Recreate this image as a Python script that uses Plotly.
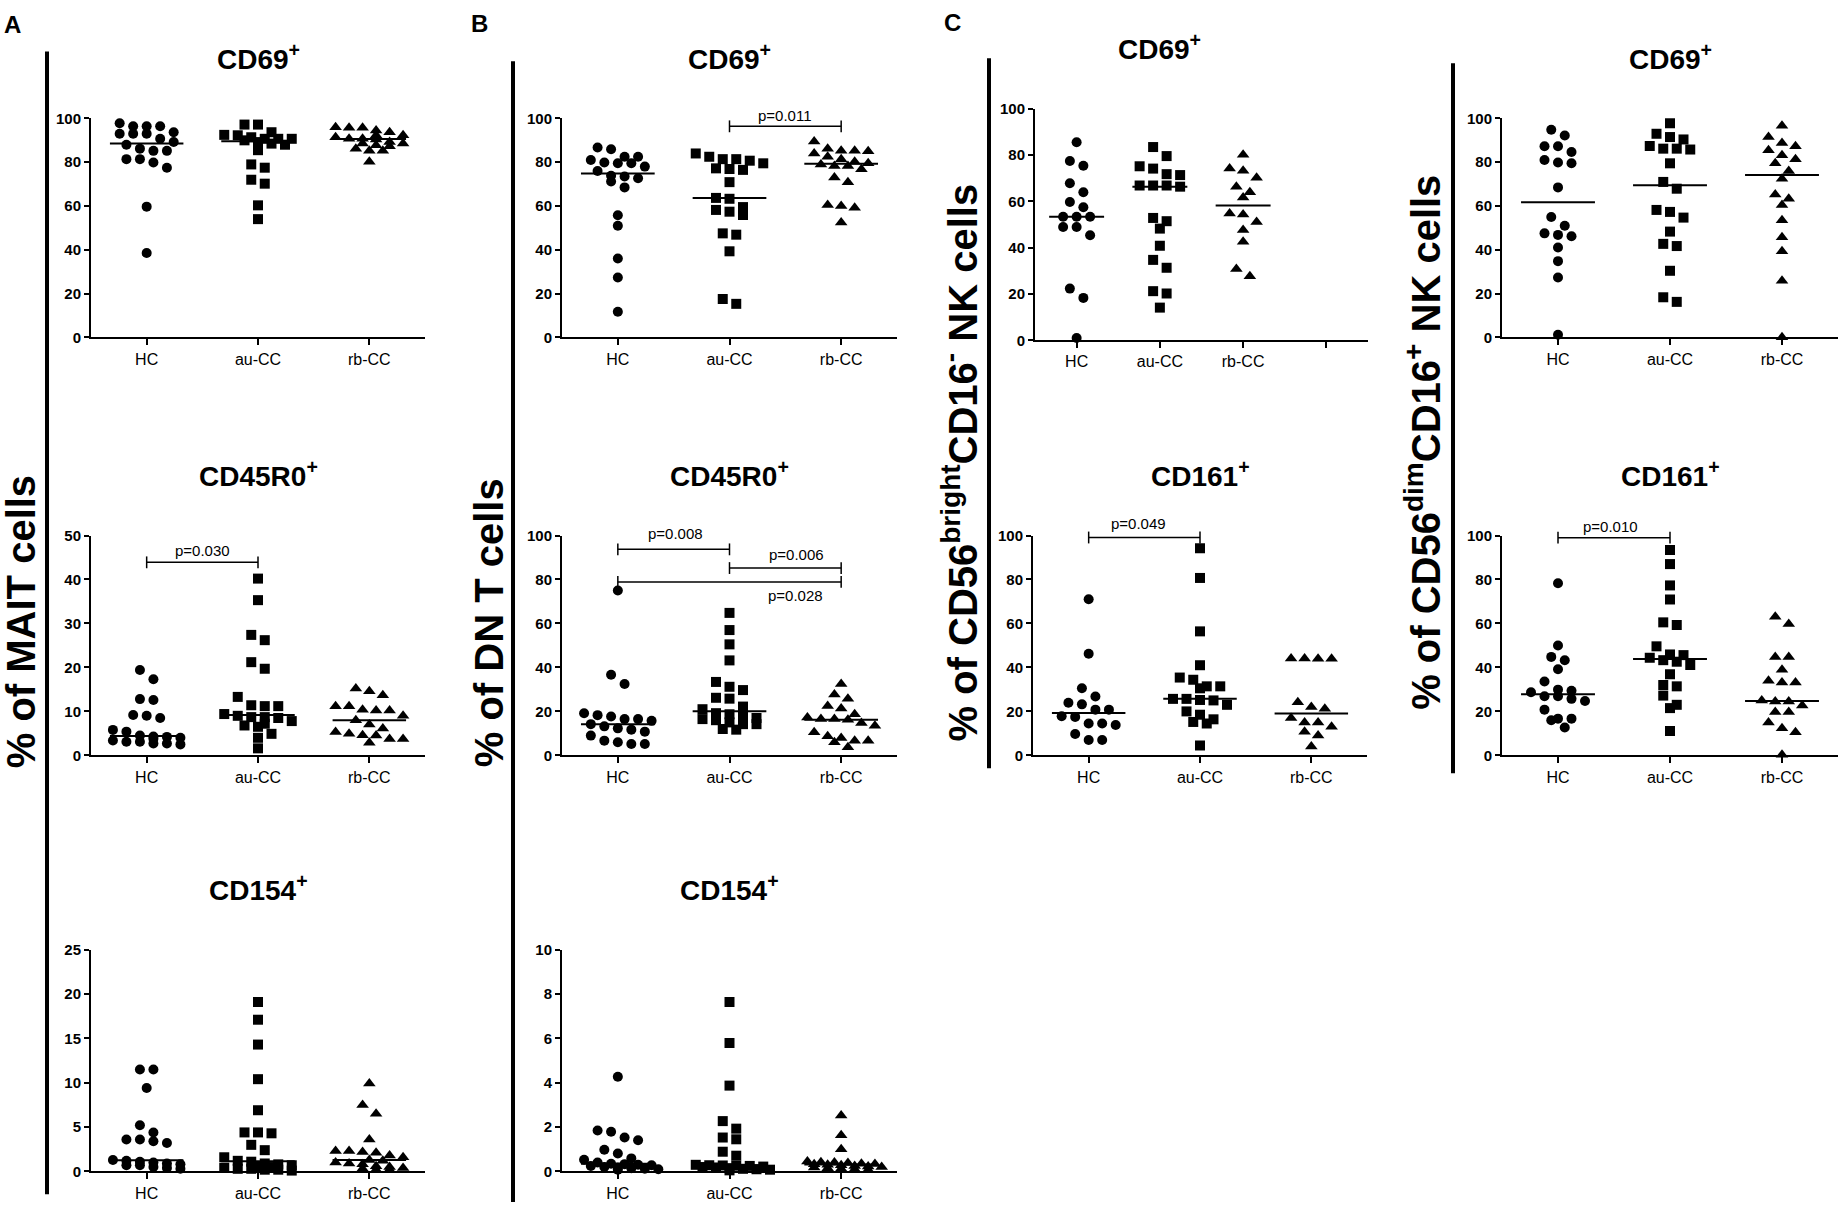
import numpy as np
import plotly.graph_objects as go

W, H = 1839, 1212
FONT = "Liberation Sans, Arial, sans-serif"

groups = ["HC", "au-CC", "rb-CC"]

# ---- panel A: MAIT cells ----
a_cd69_hc = [97.8, 96.4, 96.4, 96.4, 93.7, 93.0, 93.0, 93.0, 90.7, 89.2, 88.0, 86.2, 85.2, 85.2, 81.4, 81.4, 79.9, 77.5, 59.7, 38.5]
a_cd69_au = [97.2, 97.2, 93.7, 92.5, 92.3, 91.4, 90.7, 90.7, 90.7, 90.0, 89.2, 88.5, 88.0, 85.5, 79.0, 77.5, 72.0, 70.2, 60.3, 54.0]
a_cd69_rb = [96.0, 95.7, 95.7, 94.5, 93.7, 92.3, 92.3, 91.4, 90.7, 90.7, 90.4, 89.2, 88.5, 88.5, 87.8, 87.3, 86.2, 85.2, 85.2, 80.2]

a_cd45_hc = [19.4, 17.3, 12.8, 12.6, 9.2, 9.0, 8.5, 5.8, 5.4, 4.5, 4.3, 4.2, 4.0, 3.8, 3.4, 3.1, 3.1, 2.7, 2.7, 2.5]
a_cd45_au = [40.2, 35.3, 27.4, 26.2, 21.2, 19.7, 13.3, 11.4, 11.2, 11.2, 9.4, 9.0, 8.7, 8.7, 8.5, 7.8, 7.2, 6.8, 6.5, 4.9, 4.0, 1.6]
a_cd45_rb = [15.2, 14.6, 13.7, 11.2, 11.2, 10.4, 10.2, 10.2, 9.0, 8.0, 7.0, 6.1, 5.3, 4.9, 4.6, 4.5, 3.7, 3.7, 2.9]

a_cd154_hc = [11.5, 11.5, 9.4, 5.2, 4.4, 3.6, 3.6, 3.4, 3.2, 1.3, 1.2, 1.1, 1.0, 0.9, 0.8, 0.7, 0.7, 0.5, 0.4, 0.3]
a_cd154_au = [19.1, 17.1, 14.3, 10.4, 6.9, 4.4, 4.4, 4.3, 3.0, 2.4, 1.6, 1.2, 1.1, 0.9, 0.8, 0.7, 0.6, 0.5, 0.4, 0.3, 0.3, 0.2, 0.2, 0.1]
a_cd154_rb = [9.9, 7.5, 6.5, 3.6, 2.3, 2.3, 2.2, 2.1, 1.8, 1.6, 1.3, 1.2, 1.0, 0.9, 0.8, 0.6, 0.5, 0.4, 0.3, 0.2, 0.2]

# ---- panel B: DN T cells ----
b_cd69_hc = [86.7, 85.9, 82.5, 82.5, 81.0, 79.9, 79.5, 79.5, 78.0, 76.0, 73.8, 73.5, 72.7, 71.2, 68.5, 55.8, 51.0, 36.0, 27.3, 11.7]
b_cd69_au = [84.0, 82.5, 81.4, 81.4, 80.7, 79.5, 77.2, 76.9, 76.5, 70.9, 63.7, 63.3, 59.5, 58.2, 57.4, 55.9, 47.5, 46.9, 39.3, 17.5, 15.3]
b_cd69_rb = [89.5, 86.2, 85.2, 85.2, 85.0, 84.0, 82.5, 81.3, 80.2, 79.5, 79.0, 78.3, 78.3, 76.8, 73.0, 70.8, 60.4, 60.0, 59.2, 52.5]

b_cd45_hc = [75.0, 36.7, 32.5, 19.2, 18.3, 17.7, 16.5, 16.5, 15.7, 14.2, 13.2, 12.3, 11.7, 10.8, 9.0, 6.7, 6.0, 5.2, 5.2]
b_cd45_au = [64.8, 57.0, 50.5, 43.2, 33.4, 31.2, 29.7, 26.2, 25.8, 22.2, 21.0, 19.2, 18.7, 18.3, 17.0, 16.5, 16.0, 15.0, 14.2, 14.2, 12.0, 11.7]
b_cd45_rb = [32.5, 27.7, 25.8, 22.5, 21.3, 18.7, 17.2, 16.5, 16.5, 16.2, 14.7, 13.5, 10.5, 8.7, 7.9, 6.7, 6.7, 6.0, 3.7]

b_cd154_hc = [4.27, 1.85, 1.79, 1.53, 1.41, 0.98, 0.81, 0.59, 0.53, 0.40, 0.35, 0.33, 0.30, 0.28, 0.25, 0.20, 0.18, 0.15, 0.12, 0.10, 0.08]
b_cd154_au = [7.64, 5.79, 3.87, 2.27, 1.93, 1.53, 1.45, 0.89, 0.71, 0.30, 0.28, 0.27, 0.26, 0.25, 0.22, 0.20, 0.18, 0.15, 0.12, 0.10, 0.08, 0.05]
b_cd154_rb = [2.52, 1.63, 1.00, 0.45, 0.42, 0.40, 0.38, 0.35, 0.34, 0.32, 0.30, 0.28, 0.25, 0.22, 0.20, 0.18, 0.15, 0.12, 0.10, 0.08]

# ---- panel C: CD56bright CD16- / CD56dim CD16+ NK cells ----
c_br_cd69_hc = [85.5, 77.4, 75.3, 67.8, 63.9, 59.7, 57.4, 53.3, 53.3, 53.3, 48.9, 48.9, 45.3, 22.3, 18.3, 1.0]
c_br_cd69_au = [83.4, 79.5, 75.1, 74.1, 71.7, 71.3, 66.8, 66.8, 66.8, 66.3, 52.8, 51.4, 48.2, 40.8, 34.7, 31.3, 21.2, 20.2, 14.1]
c_br_cd69_rb = [80.1, 74.1, 73.2, 70.2, 66.3, 63.9, 61.6, 54.7, 54.3, 51.1, 47.6, 42.5, 30.8, 27.6]

c_br_cd161_hc = [71.0, 46.2, 30.5, 26.8, 23.9, 23.2, 20.8, 20.8, 17.8, 17.5, 14.5, 14.5, 13.8, 9.7, 7.0, 7.0]
c_br_cd161_au = [94.2, 80.7, 56.4, 41.0, 35.4, 34.4, 31.4, 31.4, 30.5, 25.7, 25.7, 25.2, 25.0, 23.0, 20.0, 18.5, 16.4, 15.2, 14.5, 4.5]
c_br_cd161_rb = [44.1, 44.1, 43.9, 43.9, 24.2, 22.0, 21.2, 17.0, 14.9, 14.9, 13.0, 10.8, 9.0, 4.0]

c_dim_cd69_hc = [94.8, 92.2, 87.3, 87.3, 84.7, 81.0, 79.9, 79.5, 68.5, 55.0, 51.0, 47.5, 46.8, 46.2, 41.0, 34.8, 27.3, 1.2]
c_dim_cd69_au = [97.8, 93.0, 91.5, 90.4, 87.4, 86.2, 86.2, 85.8, 79.5, 71.0, 67.9, 58.2, 57.3, 54.7, 48.3, 42.7, 41.7, 30.4, 18.3, 16.2]
c_dim_cd69_rb = [96.7, 91.5, 88.8, 87.3, 85.5, 83.2, 81.3, 79.5, 76.0, 72.4, 65.2, 63.3, 60.4, 53.5, 45.7, 39.3, 25.8, 0.0]

c_dim_cd161_hc = [78.3, 50.0, 44.8, 43.3, 39.2, 33.6, 29.9, 29.4, 28.7, 26.9, 26.9, 25.7, 24.7, 20.8, 16.7, 16.7, 16.0, 12.7]
c_dim_cd161_au = [93.4, 87.0, 77.3, 70.9, 60.5, 59.3, 49.6, 45.9, 45.6, 44.4, 43.3, 42.6, 41.1, 36.9, 32.0, 31.4, 27.2, 23.0, 21.5, 11.1]
c_dim_cd161_rb = [63.1, 59.8, 44.7, 44.7, 38.9, 33.9, 33.2, 33.2, 25.0, 24.5, 24.5, 22.7, 19.7, 19.7, 14.9, 12.3, 10.5, 0.3]

# panel layout: key, title, data, ymax, dtick, pixel box (x0, x1, ytop, ybottom), number of category slots
panels = [
    ("A1", "CD69", (a_cd69_hc, a_cd69_au, a_cd69_rb), 100, 20, (91, 425, 111, 333), 3),
    ("A2", "CD45R0", (a_cd45_hc, a_cd45_au, a_cd45_rb), 50, 10, (91, 425, 534, 757), 3),
    ("A3", "CD154", (a_cd154_hc, a_cd154_au, a_cd154_rb), 25, 5, (91, 425, 954, 1179), 3),
    ("B1", "CD69", (b_cd69_hc, b_cd69_au, b_cd69_rb), 100, 20, (562, 897, 111, 333), 3),
    ("B2", "CD45R0", (b_cd45_hc, b_cd45_au, b_cd45_rb), 100, 20, (562, 897, 534, 757), 3),
    ("B3", "CD154", (b_cd154_hc, b_cd154_au, b_cd154_rb), 10, 2, (562, 897, 954, 1179), 3),
    ("C1", "CD69", (c_br_cd69_hc, c_br_cd69_au, c_br_cd69_rb), 100, 20, (1035, 1368, 101, 336), 4),
    ("C2", "CD161", (c_br_cd161_hc, c_br_cd161_au, c_br_cd161_rb), 100, 20, (1033, 1367, 534, 757), 3),
    ("C3", "CD69", (c_dim_cd69_hc, c_dim_cd69_au, c_dim_cd69_rb), 100, 20, (1502, 1838, 111, 333), 3),
    ("C4", "CD161", (c_dim_cd161_hc, c_dim_cd161_au, c_dim_cd161_rb), 100, 20, (1502, 1838, 534, 757), 3),
]

# significance brackets: panel, from group, to group, bar value, label, label position (group units), label shift px
brackets = [
    ("A2", 0, 1, 43.9, "p=0.030", 0.5, 12),
    ("B1", 1, 2, 96.4, "p=0.011", 1.5, 11),
    ("B2", 0, 1, 93.7, "p=0.008", 0.52, 16),
    ("B2", 1, 2, 85.2, "p=0.006", 1.6, 14),
    ("B2", 0, 2, 78.9, "p=0.028", 1.59, -14),
    ("C2", 0, 1, 99.1, "p=0.049", 0.45, 14),
    ("C4", 0, 1, 99.0, "p=0.010", 0.47, 11),
]

symbols = ["circle", "square", "triangle-up"]
msizes = [10, 10, 11]


def swarm_offsets(vals, px_per_unit, px_per_cat, row_px=10.0, step_px=13.5, max_row=6):
    # Prism-like rows: points with close values share a row, centred on the group
    vals = np.asarray(vals, float)
    order = np.argsort(-vals)
    rows, cur = [], []
    for i in order:
        if cur and (vals[cur[0]] - vals[i]) * px_per_unit > row_px:
            rows.append(cur)
            cur = []
        cur.append(i)
    if cur:
        rows.append(cur)
    off = np.zeros(len(vals))
    for row in rows:
        for s in range(0, len(row), max_row):
            chunk = row[s:s + max_row]
            n = len(chunk)
            shift = 0.5 * step_px if (s // max_row) % 2 else 0.0
            for j, k in enumerate(chunk):
                off[k] = ((j - (n - 1) / 2) * step_px + shift) / px_per_cat
    return off


fig = go.Figure()
axis_ref = {}
annotations = []
shapes = []

for n, (key, title, data, ymax, dtick, box, ncat) in enumerate(panels, start=1):
    x0, x1, yt, yb = box
    sfx = "" if n == 1 else str(n)
    axis_ref[key] = (sfx, ymax, ncat, yb - yt)
    px_per_cat = (x1 - x0) / ncat
    px_per_unit = (yb - yt) / ymax

    for g, vals in enumerate(data):
        off = swarm_offsets(vals, px_per_unit, px_per_cat)
        fig.add_trace(go.Scatter(
            x=g + off, y=vals, mode="markers",
            marker=dict(symbol=symbols[g], size=msizes[g], color="black", line=dict(width=0)),
            cliponaxis=False, xaxis="x" + sfx, yaxis="y" + sfx, hoverinfo="y"))
        med = float(np.median(vals))
        fig.add_trace(go.Scatter(
            x=[g - 0.33, g + 0.33], y=[med, med], mode="lines",
            line=dict(color="black", width=2), xaxis="x" + sfx, yaxis="y" + sfx,
            hoverinfo="skip"))

    ticktext = groups + [""] * (ncat - len(groups))
    fig.layout["xaxis" + sfx] = dict(
        domain=[x0 / W, x1 / W], anchor="y" + sfx, range=[-0.5, ncat - 0.5],
        tickvals=list(range(ncat)), ticktext=ticktext, ticks="outside", ticklen=6,
        tickwidth=1.5, tickcolor="black", showline=True, linecolor="black", linewidth=2,
        showgrid=False, zeroline=False, fixedrange=True,
        tickfont=dict(family=FONT, size=16, color="black"))
    fig.layout["yaxis" + sfx] = dict(
        domain=[1 - yb / H, 1 - yt / H], anchor="x" + sfx, range=[0, ymax],
        tick0=0, dtick=dtick, ticks="outside", ticklen=5, tickwidth=1.5, tickcolor="black",
        showline=True, linecolor="black", linewidth=2, showgrid=False, zeroline=False,
        fixedrange=True, tickfont=dict(family=FONT, size=15, color="black", weight="bold"))

    annotations.append(dict(
        text=title + "<sup>+</sup>", xref="x" + sfx + " domain", yref="y" + sfx + " domain",
        x=1.5 / ncat, y=1 + 62 / (yb - yt), showarrow=False, xanchor="center", yanchor="middle",
        font=dict(family=FONT, size=28, color="black", weight="bold")))

for key, g1, g2, val, label, tpos, dy in brackets:
    sfx, ymax, ncat, hpx = axis_ref[key]
    xr, yr = "x" + sfx + " domain", "y" + sfx + " domain"
    xa, xb = (g1 + 0.5) / ncat, (g2 + 0.5) / ncat
    yv = val / ymax
    cap = 6 / hpx
    style = dict(color="black", width=1.5)
    shapes.append(dict(type="line", xref=xr, yref=yr, x0=xa, x1=xb, y0=yv, y1=yv, line=style))
    shapes.append(dict(type="line", xref=xr, yref=yr, x0=xa, x1=xa, y0=yv - cap, y1=yv + cap, line=style))
    shapes.append(dict(type="line", xref=xr, yref=yr, x0=xb, x1=xb, y0=yv - cap, y1=yv + cap, line=style))
    annotations.append(dict(
        text=label, xref=xr, yref=yr, x=(tpos + 0.5) / ncat, y=yv, yshift=dy,
        showarrow=False, xanchor="center", yanchor="middle",
        font=dict(family=FONT, size=15, color="black")))

# thick separators between panel groups (pixel positions)
separators = [(47, 43, 1202), (513, 53, 1210), (989, 50, 770), (1453, 55, 775)]
for sx, sy0, sy1 in separators:
    shapes.append(dict(type="line", xref="paper", yref="paper", x0=sx / W, x1=sx / W,
                       y0=1 - sy0 / H, y1=1 - sy1 / H, line=dict(color="black", width=4)))

# big rotated axis titles
side_titles = [
    ("% of MAIT cells", 21, 622),
    ("% of DN T cells", 489, 622),
    ("% of CD56<sup>bright</sup>CD16<sup>-</sup> NK cells", 960, 460),
    ("% of CD56<sup>dim</sup>CD16<sup>+</sup> NK cells", 1423, 440),
]
for text, tx, ty in side_titles:
    annotations.append(dict(
        text=text, xref="paper", yref="paper", x=tx / W, y=1 - ty / H, textangle=-90,
        showarrow=False, xanchor="center", yanchor="middle",
        font=dict(family=FONT, size=40, color="black", weight="bold")))

letters = [("A", 12, 16), ("B", 480, 15), ("C", 952, 14)]
for text, tx, ty in letters:
    annotations.append(dict(
        text=text, xref="paper", yref="paper", x=tx / W, y=1 - ty / H,
        showarrow=False, xanchor="center", yanchor="middle",
        font=dict(family=FONT, size=24, color="black", weight="bold")))

fig.update_layout(
    width=W, height=H, margin=dict(l=0, r=0, t=0, b=0),
    paper_bgcolor="white", plot_bgcolor="white", showlegend=False,
    annotations=annotations, shapes=shapes)

fig.write_html("out.html", config={"displayModeBar": False},
               post_script="document.body.style.margin='0';")
